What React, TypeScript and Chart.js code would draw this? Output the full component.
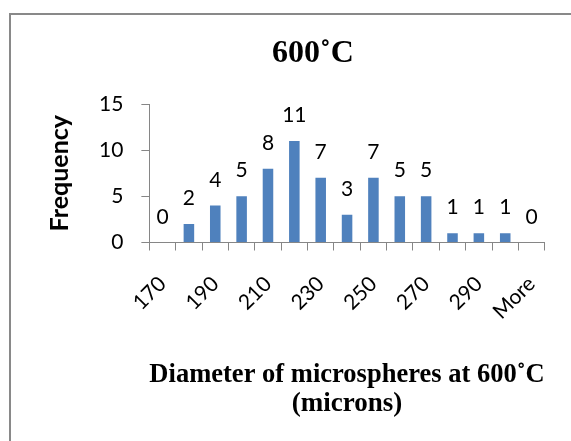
import React, { useEffect, useRef } from "react";
import { Chart, registerables } from "chart.js";

Chart.register(...registerables);

const categories = ["170", "180", "190", "200", "210", "220", "230", "240", "250", "260", "270", "280", "290", "300", "More"];
const frequencies = [0, 2, 4, 5, 8, 11, 7, 3, 7, 5, 5, 1, 1, 1, 0];
const yTicks = [0, 5, 10, 15];
const chartTitle = "600˚C";
const xAxisTitle = ["Diameter of microspheres at 600˚C", "(microns)"];
const yAxisTitle = "Frequency";

const BAR_COLOR = "#4F81BD";
const AXIS_COLOR = "#868686";

export default function App() {
  const ref = useRef<HTMLCanvasElement | null>(null);

  useEffect(() => {
    if (!ref.current) return;

    const frameAndTitle = {
      id: "frameAndTitle",
      beforeDraw(chart: any) {
        const ctx = chart.ctx;
        ctx.save();
        ctx.fillStyle = "#ffffff";
        ctx.fillRect(0, 0, chart.width, chart.height);
        ctx.fillStyle = "#898989";
        ctx.fillRect(9, 13, 2, chart.height);
        ctx.fillRect(9, 13, chart.width, 2);
        ctx.fillStyle = "#000000";
        ctx.font = "bold 32px 'Liberation Serif'";
        ctx.textAlign = "center";
        ctx.textBaseline = "alphabetic";
        ctx.fillText(chartTitle, 313, 62);
        ctx.restore();
      },
    };

    const barValues = {
      id: "barValues",
      afterDatasetsDraw(chart: any) {
        const ctx = chart.ctx;
        const meta = chart.getDatasetMeta(0);
        const data = chart.data.datasets[0].data;
        ctx.save();
        ctx.fillStyle = "#000000";
        ctx.font = "21px Lato";
        ctx.textAlign = "center";
        ctx.textBaseline = "alphabetic";
        meta.data.forEach((el: any, i: number) => {
          ctx.fillText(String(data[i]), el.x, el.y - 19);
        });
        ctx.restore();
      },
    };

    const chart = new Chart(ref.current, {
      type: "bar",
      data: {
        labels: categories,
        datasets: [
          {
            label: "Frequency",
            data: frequencies,
            backgroundColor: BAR_COLOR,
            borderWidth: 0,
            barPercentage: 0.4,
            categoryPercentage: 1,
          },
        ],
      },
      options: {
        animation: false,
        responsive: false,
        maintainAspectRatio: false,
        layout: { padding: { left: 45, top: 104, right: 18, bottom: 23 } },
        plugins: {
          legend: { display: false },
          tooltip: { enabled: false },
          title: { display: false },
        },
        scales: {
          x: {
            type: "category",
            offset: true,
            afterFit: (scale: any) => {
              scale.height = 175.5;
            },
            grid: {
              display: true,
              drawOnChartArea: false,
              drawTicks: true,
              tickLength: 8,
              color: AXIS_COLOR,
              offset: true,
            },
            border: { display: true, color: AXIS_COLOR },
            ticks: {
              autoSkip: false,
              minRotation: 45,
              maxRotation: 45,
              padding: 21,
              color: "#000000",
              font: { family: "Lato", size: 21 },
              callback: (_v: any, i: number) => (i % 2 === 0 ? categories[i] : ""),
            },
            title: {
              display: true,
              text: xAxisTitle,
              color: "#000000",
              font: { family: "'Liberation Serif'", size: 27, weight: "bold", lineHeight: 1.05 },
              padding: { top: 20, bottom: 0 },
            },
          },
          y: {
            min: 0,
            max: 15,
            afterBuildTicks: (axis: any) => {
              axis.ticks = yTicks.map((v) => ({ value: v }));
            },
            grid: {
              drawOnChartArea: false,
              drawTicks: true,
              tickLength: 8,
              color: AXIS_COLOR,
            },
            border: { display: true, color: AXIS_COLOR },
            ticks: {
              padding: 18,
              color: "#000000",
              font: { family: "Lato", size: 21 },
            },
            title: {
              display: true,
              text: yAxisTitle,
              color: "#000000",
              font: { family: "Lato", size: 25, weight: "bold" },
              padding: { top: 0, bottom: 6 },
            },
          },
        },
      },
      plugins: [frameAndTitle, barValues],
    });

    return () => chart.destroy();
  }, []);

  return (
    <div style={{ position: "fixed", left: 0, top: 0, width: 571, height: 441, background: "#fff" }}>
      <canvas ref={ref} width={571} height={441} style={{ display: "block", width: 571, height: 441 }} />
    </div>
  );
}
